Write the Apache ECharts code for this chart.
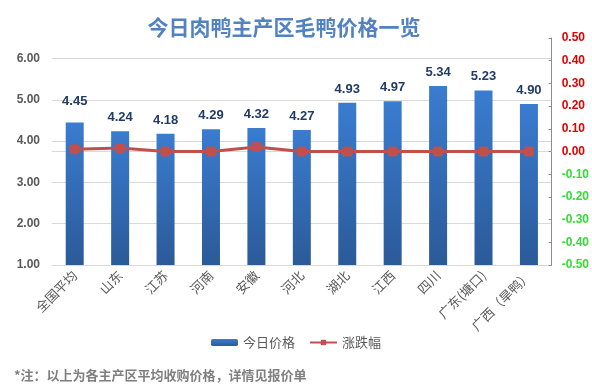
<!DOCTYPE html>
<html>
<head>
<meta charset="utf-8">
<script src="https://cdn.jsdelivr.net/npm/echarts@6/dist/echarts.min.js"></script>
<style>
html,body{margin:0;padding:0;background:#fff;}
#chart{width:592px;height:392px;}
</style>
</head>
<body>
<div id="chart"></div>
<script>
var titleText = '今日肉鸭主产区毛鸭价格一览';
var footnote = '*注：以上为各主产区平均收购价格，详情见报价单';
var categories = ['全国平均','山东','江苏','河南','安徽','河北','湖北','江西','四川','广东(塘口)','广西（旱鸭）'];
var priceName = '今日价格';
var changeName = '涨跌幅';
var prices = [4.45, 4.24, 4.18, 4.29, 4.32, 4.27, 4.93, 4.97, 5.34, 5.23, 4.90];
var changes = [0.01, 0.015, 0, 0, 0.02, 0, 0, 0, 0, 0, 0];
var leftTicks = {min: 1, max: 6.5, interval: 1};
var rightTicks = {min: -0.5, max: 0.5, interval: 0.1};

var chart = echarts.init(document.getElementById('chart'), null, {renderer: 'canvas'});
var fontFam = '"Noto Sans CJK SC", "Liberation Sans", Arial, sans-serif';

var barData = prices.map(function (v, i) {
  var item = {value: v};
  if (i === 0) item.label = {distance: 15};
  return item;
});

var option = {
  backgroundColor: '#ffffff',
  animation: false,
  textStyle: {fontFamily: fontFam},
  title: {
    text: titleText,
    left: 279, top: 12, textAlign: 'center',
    textStyle: {fontSize: 21, fontWeight: 'bold', color: '#5283c0', fontFamily: fontFam}
  },
  legend: {
    data: [
      {name: priceName},
      {name: changeName}
    ],
    left: 'center', top: 331,
    itemWidth: 27, itemHeight: 7, itemGap: 14,
    textStyle: {fontSize: 13, color: '#595959', fontFamily: fontFam}
  },
  grid: {left: 52, right: 40, top: 38, bottom: 127, containLabel: false},
  xAxis: {
    type: 'category',
    data: categories,
    axisLine: {show: true, lineStyle: {color: '#d9d9d9', width: 1}},
    axisTick: {show: false},
    axisLabel: {rotate: 45, fontSize: 13, color: '#595959', margin: 8, interval: 0, fontFamily: fontFam}
  },
  yAxis: [
    {
      type: 'value', position: 'left',
      min: leftTicks.min, max: leftTicks.max, interval: leftTicks.interval,
      axisLine: {show: false}, axisTick: {show: false},
      splitLine: {show: true, showMaxLine: false, lineStyle: {color: '#d9d9d9', width: 1}},
      axisLabel: {
        showMaxLabel: false, margin: 12, fontSize: 12, fontWeight: 'bold', color: '#595959',
        fontFamily: 'Liberation Sans, Arial, sans-serif',
        formatter: function (v) { return Math.abs(v - Math.round(v)) < 1e-9 ? v.toFixed(2) : ''; }
      }
    },
    {
      type: 'value', position: 'right',
      min: rightTicks.min, max: rightTicks.max, interval: rightTicks.interval,
      axisLine: {show: true, lineStyle: {color: '#8c8c8c', width: 1}},
      axisTick: {show: true, inside: true, length: 3, lineStyle: {color: '#8c8c8c'}},
      splitLine: {show: false},
      axisLabel: {
        margin: 10, fontSize: 12, fontWeight: 'bold',
        fontFamily: 'Liberation Sans, Arial, sans-serif',
        formatter: function (v) {
          var s = (Math.abs(v) < 1e-9 ? 0 : v).toFixed(2);
          return v < -1e-9 ? '{g|' + s + '}' : '{r|' + s + '}';
        },
        rich: {
          r: {color: '#e00000', fontSize: 12, fontWeight: 'bold', fontFamily: 'Liberation Sans, Arial, sans-serif'},
          g: {color: '#33dd33', fontSize: 12, fontWeight: 'bold', fontFamily: 'Liberation Sans, Arial, sans-serif'}
        }
      }
    }
  ],
  series: [
    {
      name: priceName,
      type: 'bar',
      yAxisIndex: 0,
      data: barData,
      barWidth: 18,
      itemStyle: {
        color: new echarts.graphic.LinearGradient(0, 0, 0, 1, [
          {offset: 0, color: '#3a7cd0'},
          {offset: 1, color: '#2b5a98'}
        ])
      },
      label: {
        show: true, position: 'top', distance: 7,
        fontSize: 13, fontWeight: 'bold', color: '#1f3b66',
        fontFamily: 'Liberation Sans, Arial, sans-serif',
        formatter: function (p) { return p.value.toFixed(2); }
      }
    },
    {
      name: changeName,
      type: 'line',
      yAxisIndex: 1,
      data: changes,
      symbol: 'roundRect',
      symbolSize: 10,
      lineStyle: {color: '#c0504d', width: 3},
      itemStyle: {color: '#c0504d'},
      z: 5
    }
  ],
  graphic: [
    {
      type: 'text', left: 14, top: 369,
      style: {text: footnote, fontSize: 13, fontWeight: 'bold', fill: '#7f7f7f', fontFamily: fontFam}
    }
  ]
};
chart.setOption(option);
</script>
</body>
</html>
